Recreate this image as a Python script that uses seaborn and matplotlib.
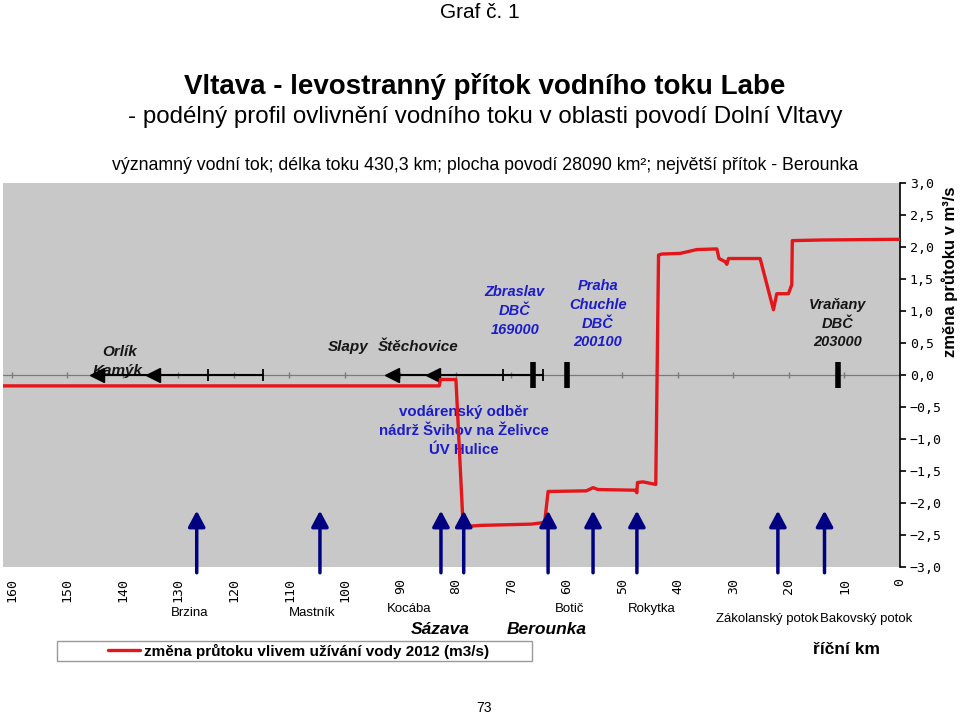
import matplotlib
matplotlib.use('Agg')
import matplotlib.pyplot as plt
import matplotlib.transforms as mtransforms
from matplotlib.patches import Rectangle
import pandas as pd
import seaborn as sns

# --- data ---
# river km (distance from mouth) and flow change in m3/s
RIVER_KM = [161.6, 83.0, 82.8, 80.0, 78.7, 75.7, 66.4, 64.6, 64.0, 63.4, 56.5, 55.3,
            54.4, 47.7, 47.4, 47.3, 46.3, 44.0, 43.5, 42.9, 39.6, 36.6, 33.0, 32.6,
            31.5, 31.2, 30.9, 25.2, 22.8, 22.2, 20.1, 19.5, 19.4, 13.8, 0.0]
FLOW_CHANGE = [-0.17, -0.17, -0.07, -0.07, -2.37, -2.35, -2.33, -2.31, -2.29, -1.82, -1.81, -1.76,
               -1.79, -1.80, -1.84, -1.68, -1.67, -1.71, 1.875, 1.89, 1.90, 1.96, 1.97, 1.82,
               1.77, 1.73, 1.82, 1.82, 1.02, 1.27, 1.27, 1.41, 2.10, 2.11, 2.12]

# reservoir stretches (black line with arrows) and gauging stations
RESERVOIR_SPANS = [[144.7, 134.6, 124.7, 114.8], [91.5, 84.1, 71.5, 64.3]]
DAM_ARROWS_KM = [144.7, 134.6, 91.5, 84.1]
SPAN_TICKS_KM = [124.7, 114.8, 71.5, 64.3]
STATION_KM = [66.1, 60.0, 11.2]

# tributaries (blue arrows)
TRIBUTARY_KM = [126.7, 104.5, 82.7, 78.6, 63.4, 55.3, 47.4, 22.0, 13.6]

KM_TICKS = list(range(0, 161, 10))
FLOW_TICKS = [-3.0, -2.5, -2.0, -1.5, -1.0, -0.5, 0.0, 0.5, 1.0, 1.5, 2.0, 2.5, 3.0]

LEGEND_LABEL = 'změna průtoku vlivem užívání vody 2012 (m3/s)'

W, H = 960, 716
RED = '#e3161c'
NAVY = '#000080'
BLUE = '#1c1cc8'
DARK = '#161616'
NARROW = ['Liberation Sans Narrow', 'Liberation Sans', 'DejaVu Sans']


def fx(px):
    return px / W


def fy(py):
    return 1 - py / H


def main():
    sns.set_style('white')
    plt.rcParams['font.family'] = ['Liberation Sans', 'DejaVu Sans']
    plt.rcParams['text.color'] = 'black'
    plt.rcParams['xtick.color'] = 'black'
    plt.rcParams['ytick.color'] = 'black'

    fig = plt.figure(figsize=(W / 100, H / 100), dpi=100)
    ax = fig.add_axes([fx(3), fy(567), fx(897), 384 / H])
    ax.set_facecolor('#c8c8c8')

    df = pd.DataFrame({'km': RIVER_KM, 'flow': FLOW_CHANGE})

    # zero line with km marks
    ax.axhline(0, color='#7a7a7a', lw=0.9, zorder=1)
    ax.plot(KM_TICKS, [0] * len(KM_TICKS), '|', color='#7a7a7a', ms=5, zorder=1)

    # reservoirs and stations
    for span in RESERVOIR_SPANS:
        ax.plot(span, [0] * len(span), color='black', lw=1.5, zorder=3)
    ax.plot(DAM_ARROWS_KM, [0] * len(DAM_ARROWS_KM), '<', color='black', ms=10, zorder=4)
    ax.plot(SPAN_TICKS_KM, [0] * len(SPAN_TICKS_KM), '|', color='black', ms=8, mew=1.3, zorder=4)
    ax.vlines(STATION_KM, -0.2, 0.2, color='black', lw=4, zorder=4)

    # flow change line
    sns.lineplot(data=df, x='km', y='flow', sort=False, estimator=None, color=RED,
                 lw=2.4, ax=ax, label=LEGEND_LABEL, zorder=5)

    # tributary arrows
    for km in TRIBUTARY_KM:
        ax.annotate('', xy=(km, -2.12), xytext=(km, -3.09),
                    arrowprops=dict(arrowstyle='-|>,head_length=0.6,head_width=0.32',
                                    color=NAVY, lw=2.5, mutation_scale=16,
                                    shrinkA=0, shrinkB=0),
                    annotation_clip=False, zorder=6)

    ax.set_xlim(161.6, 0)
    ax.set_ylim(-3, 3)
    ax.set_xlabel('')
    ax.set_ylabel('')
    for side in ['top', 'left', 'bottom']:
        ax.spines[side].set_visible(False)
    ax.spines['right'].set_color('black')
    ax.spines['right'].set_linewidth(1.2)

    ax.set_xticks(KM_TICKS)
    ax.set_xticklabels([str(k) for k in KM_TICKS], rotation=90,
                       fontfamily='DejaVu Sans Mono', fontsize=9.5)
    ax.tick_params(axis='x', length=0, pad=8)

    ax.yaxis.tick_right()
    ax.set_yticks(FLOW_TICKS)
    ax.set_yticklabels([f'{v:.1f}'.replace('.', ',').replace('-', '\u2212') for v in FLOW_TICKS],
                       fontfamily='DejaVu Sans Mono', fontsize=9.5)
    ax.tick_params(axis='y', direction='out', length=4, width=1.2, color='black', pad=3)

    # labels inside the plot
    bold_it = dict(fontsize=11, fontweight='bold', style='italic', ha='center', va='center',
                   color=DARK)
    ax.text(140.5, 0.36, 'Orlík', zorder=2, **bold_it)
    ax.text(140.9, 0.06, 'Kamýk', zorder=2, **bold_it)
    ax.text(99.5, 0.44, 'Slapy', **bold_it)
    ax.text(86.8, 0.44, 'Štěchovice', **bold_it)

    station = dict(fontsize=10.5, fontweight='bold', style='italic', ha='center', va='center',
                   linespacing=1.42)
    ax.text(69.4, 1.0, 'Zbraslav\nDBČ\n169000', color=BLUE, **station)
    ax.text(54.4, 0.95, 'Praha\nChuchle\nDBČ\n200100', color=BLUE, **station)
    ax.text(11.2, 0.8, 'Vraňany\nDBČ\n203000', color=DARK, **station)
    ax.text(78.6, -0.875, 'vodárenský odběr\nnádrž Švihov na Želivce\nÚV Hulice', fontsize=10.8,
            fontweight='bold', color=BLUE, ha='center', va='center', linespacing=1.45, zorder=2)

    # tributary names below the axis
    below = mtransforms.blended_transform_factory(ax.transData, fig.transFigure)
    names = [('Brzina', 127.9, 613), ('Mastník', 105.9, 613), ('Kocába', 88.5, 609),
             ('Botič', 59.5, 609), ('Rokytka', 44.7, 609),
             ('Zákolanský potok', 24.0, 619), ('Bakovský potok', 6.1, 619)]
    for name, km, py in names:
        ax.text(km, fy(py), name, transform=below, fontsize=9.5, ha='center', va='center')
    ax.text(82.9, fy(629), 'Sázava', transform=below, fontsize=12.5, fontweight='bold',
            style='italic', ha='center', va='center')
    ax.text(63.6, fy(629), 'Berounka', transform=below, fontsize=12.5, fontweight='bold',
            style='italic', ha='center', va='center')
    ax.text(9.7, fy(649), 'říční km', transform=below, fontsize=12.5, fontweight='bold',
            ha='center', va='center')

    # legend
    ax.get_legend().remove()
    handles, labels = ax.get_legend_handles_labels()
    fig.patches.append(Rectangle((fx(57), fy(661)), fx(475), 20 / H, transform=fig.transFigure,
                                 fill=False, edgecolor='#9a9a9a', lw=1))
    fig.legend(handles, labels, loc='center left', bbox_to_anchor=(fx(94), fy(651)),
               frameon=False, handlelength=2.1, handletextpad=0.3,
               prop={'weight': 'bold', 'size': 11})

    # titles
    fig.text(0.5, fy(12), 'Graf č. 1', ha='center', va='center', fontsize=15, fontfamily=NARROW)
    fig.text(fx(485), fy(86), 'Vltava - levostranný přítok vodního toku Labe', ha='center',
             va='center', fontsize=20, fontweight='bold', fontfamily=NARROW)
    fig.text(fx(485), fy(117), '- podélný profil ovlivnění vodního toku v oblasti povodí Dolní Vltavy',
             ha='center', va='center', fontsize=17.4, fontfamily=NARROW)
    fig.text(fx(485), fy(165), 'významný vodní tok; délka toku 430,3 km; plocha povodí 28090 km²; '
             'největší přítok - Berounka', ha='center', va='center', fontsize=12.8, fontfamily=NARROW)
    fig.text(fx(950), fy(272), 'změna průtoku v m³/s', rotation=90, ha='center', va='center',
             fontsize=12, fontweight='bold')
    fig.text(fx(484), fy(708), '73', ha='center', va='center', fontsize=10)

    fig.savefig('out.png', dpi=100)
    plt.close(fig)


if __name__ == '__main__':
    main()
